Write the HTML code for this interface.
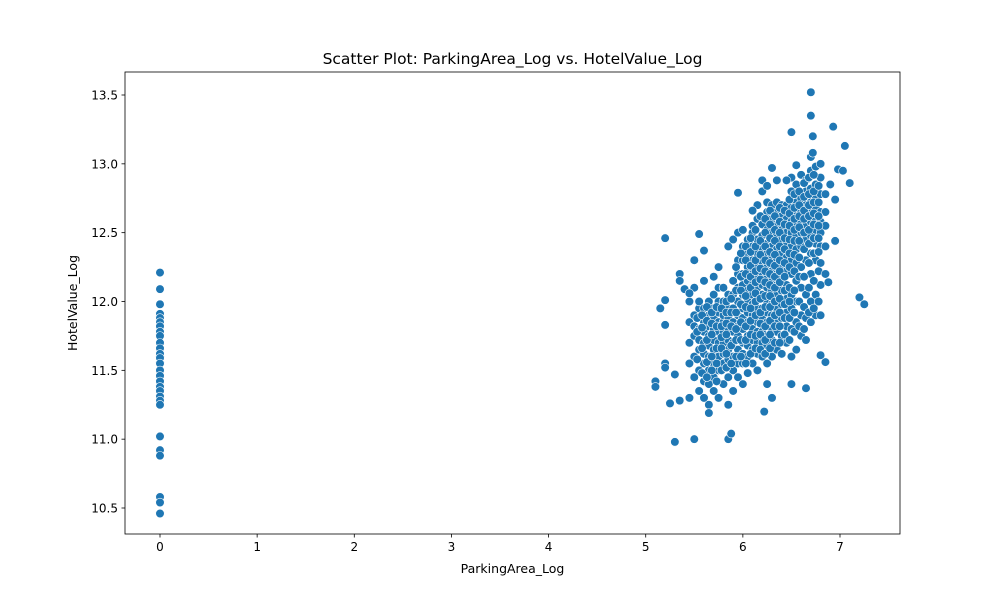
<!DOCTYPE html>
<html><head><meta charset="utf-8"><style>
body{margin:0;background:#fff;font-family:"Liberation Sans","DejaVu Sans",sans-serif}
svg text{font-family:"DejaVu Sans","Liberation Sans",sans-serif}
</style></head><body>
<svg id="c" width="1000" height="600">
<rect width="1000" height="600" fill="#fff"/>
</svg>
<script>
const xTicks=[0,1,2,3,4,5,6,7];
const yTicks=[10.5,11.0,11.5,12.0,12.5,13.0,13.5];
const zeroYs=[12.21,12.09,11.98,11.91,11.88,11.85,11.82,11.78,11.75,11.70,11.66,11.62,11.59,11.55,11.50,11.46,11.42,11.38,11.35,11.31,11.28,11.25,11.02,10.92,10.88,10.58,10.54,10.46];
const outX=[5.1,5.1,5.15,5.2,5.2,5.2,5.2,5.2,5.25,5.3,5.3,5.35,5.35,5.35,5.4,5.45,5.5,5.5,5.55,5.6,5.65,5.85,5.88,5.95,6.1,6.2,6.25,6.3,6.35,6.45,6.5,6.55,6.65,6.7,6.7,6.72,6.72,6.8,6.93,6.98,7.03,7.05,7.1,7.2,7.25,6.85,6.8,6.5,6.22,6.3,6.25,6.85,6.88,6.95,6.95,6.9];
const outY=[11.42,11.38,11.95,12.46,12.01,11.83,11.55,11.52,11.26,10.98,11.47,11.28,12.2,12.15,12.09,12.06,12.3,11.0,12.49,12.37,11.19,11.0,11.04,12.79,12.66,12.88,12.84,12.97,12.88,12.88,13.23,12.99,11.37,13.52,13.35,13.2,13.08,13.0,13.27,12.96,12.95,13.13,12.86,12.03,11.98,11.56,11.61,11.4,11.2,11.3,11.4,12.2,12.14,12.44,12.74,12.85];
const colX=[5.45,5.5,5.55,5.6,5.65,5.7,5.75,5.8,5.85,5.9,5.95,6.0,6.05,6.1,6.15,6.2,6.25,6.3,6.35,6.4,6.45,6.5,6.55,6.6,6.65,6.7,6.75,6.8,6.85];
const colY=[
[11.3,11.55,11.7,11.85,12.0],
[11.45,11.6,11.75,11.82,11.9,12.1],
[11.35,11.5,11.65,11.72,11.8,11.95,12.0],
[11.3,11.42,11.55,11.62,11.7,11.78,11.85,11.95,12.15],
[11.25,11.4,11.5,11.6,11.68,11.75,11.82,11.9,12.0],
[11.35,11.45,11.55,11.65,11.72,11.8,11.88,11.95,12.05,12.18],
[11.3,11.5,11.6,11.7,11.78,11.85,11.92,12.0,12.1,12.25],
[11.4,11.55,11.62,11.7,11.78,11.85,11.9,12.0,12.1],
[11.25,11.45,11.58,11.65,11.72,11.8,11.88,11.95,12.05,12.4],
[11.35,11.5,11.6,11.7,11.78,11.85,11.95,12.05,12.15,12.45],
[11.45,11.55,11.65,11.75,11.82,11.9,12.0,12.1,12.2,12.3,12.5],
[11.4,11.55,11.62,11.7,11.8,11.88,11.95,12.05,12.12,12.2,12.3,12.4,12.52],
[11.48,11.6,11.68,11.75,11.85,11.92,12.0,12.08,12.15,12.25,12.35,12.45],
[11.55,11.65,11.72,11.8,11.9,11.98,12.05,12.12,12.2,12.3,12.4,12.5,12.55],
[11.5,11.62,11.7,11.78,11.85,11.95,12.02,12.1,12.18,12.25,12.35,12.45,12.6,12.7],
[11.6,11.7,11.78,11.88,11.95,12.05,12.12,12.2,12.28,12.38,12.48,12.56,12.8],
[11.55,11.68,11.75,11.85,11.92,12.0,12.1,12.18,12.25,12.35,12.42,12.52,12.65,12.72],
[11.6,11.72,11.8,11.9,11.98,12.08,12.15,12.22,12.32,12.4,12.5,12.6,12.7],
[11.65,11.78,11.85,11.95,12.05,12.12,12.2,12.3,12.38,12.48,12.55,12.65,12.72],
[11.62,11.75,11.88,11.98,12.08,12.18,12.25,12.35,12.45,12.52,12.62,12.7],
[11.7,11.82,11.92,12.02,12.12,12.22,12.32,12.42,12.5,12.6,12.7],
[11.6,11.8,11.95,12.05,12.2,12.3,12.4,12.5,12.58,12.68,12.8,12.9],
[11.65,11.85,12.0,12.15,12.28,12.38,12.48,12.55,12.62,12.72,12.85],
[11.75,11.9,12.1,12.25,12.4,12.5,12.58,12.65,12.75,12.92],
[11.72,11.88,12.05,12.3,12.45,12.55,12.62,12.7,12.8,12.88],
[11.85,12.0,12.2,12.35,12.48,12.58,12.65,12.72,12.82,12.95,13.05],
[11.9,12.05,12.3,12.42,12.52,12.6,12.68,12.75,12.85,12.98],
[11.9,12.12,12.28,12.4,12.5,12.58,12.65,12.78,12.9],
[12.4,12.55,12.65,12.78]];
const fillX=[5.53,5.58,5.63,5.68,5.73,5.78,5.83,5.88,5.93,5.98,6.03,6.08,6.13,6.18,6.23,6.28,6.33,6.38,6.43,6.48,6.53,6.58,6.63,6.68,6.73,6.78];
const fillY=[
[11.58,11.78,11.88],
[11.48,11.66,11.81,11.9],
[11.45,11.56,11.72,11.86,11.96],
[11.5,11.6,11.76,11.84,11.92],
[11.42,11.55,11.66,11.82,11.96],
[11.5,11.66,11.74,11.82,11.95],
[11.52,11.62,11.76,11.84,11.92,12.0],
[11.55,11.68,11.82,11.92,12.02],
[11.6,11.72,11.8,11.92,12.08,12.25],
[11.6,11.72,11.85,11.98,12.08,12.18,12.35],
[11.55,11.72,11.82,11.96,12.04,12.2,12.3,12.4],
[11.62,11.76,11.86,11.95,12.1,12.18,12.26,12.36,12.46],
[11.66,11.75,11.9,12.0,12.06,12.14,12.22,12.3,12.4,12.52],
[11.65,11.76,11.84,11.92,12.02,12.16,12.24,12.34,12.44,12.62],
[11.62,11.72,11.82,11.96,12.04,12.14,12.22,12.3,12.4,12.5,12.6],
[11.66,11.76,11.86,11.96,12.04,12.12,12.2,12.28,12.36,12.46,12.56,12.66],
[11.7,11.82,11.9,12.0,12.1,12.18,12.26,12.34,12.44,12.52,12.62],
[11.7,11.82,11.92,12.02,12.14,12.22,12.3,12.4,12.5,12.58,12.68],
[11.76,11.88,11.98,12.08,12.18,12.28,12.38,12.46,12.56,12.66],
[11.72,11.88,12.0,12.1,12.25,12.35,12.45,12.55,12.64,12.74],
[11.78,11.92,12.08,12.22,12.34,12.44,12.52,12.6,12.68,12.78],
[11.82,12.0,12.18,12.32,12.44,12.54,12.62,12.7,12.8],
[11.8,11.96,12.18,12.38,12.5,12.6,12.66,12.76,12.86],
[11.92,12.1,12.28,12.42,12.52,12.62,12.7,12.78,12.9],
[11.95,12.15,12.35,12.46,12.56,12.64,12.72,12.8,12.92],
[12.0,12.22,12.36,12.46,12.55,12.62,12.72,12.84]];

const L=125,R=900,T=72,B=534;
const sx=v=>160+(v-0)*(840-160)/7;
const sy=v=>508-(v-10.5)*(508-95)/3;
const NS='http://www.w3.org/2000/svg';
const svg=document.getElementById('c');
function mk(t,a,p){const e=document.createElementNS(NS,t);for(const k in a)e.setAttribute(k,a[k]);(p||svg).appendChild(e);return e;}
function txt(s,a,name){const e=mk('text',a);e.textContent=s;


return e;}

const pts=mk('g',{});


function dot(x,y){const c=mk('circle',{cx:sx(x),cy:sy(y),r:4.3,fill:'#1f77b4',stroke:'#fff','stroke-width':0.6},pts);

}
zeroYs.forEach(y=>dot(0,y));
colX.forEach((x,i)=>colY[i].forEach(y=>dot(x,y)));
fillX.forEach((x,i)=>fillY[i].forEach(y=>dot(x,y)));
outX.forEach((x,i)=>dot(x,outY[i]));

const frame=mk('rect',{x:L,y:T,width:R-L,height:B-T,fill:'none',stroke:'#000','stroke-width':0.8});


xTicks.forEach(v=>{const x=sx(v);
const t=mk('line',{x1:x,x2:x,y1:B,y2:B+3.5,stroke:'#000','stroke-width':0.8});


txt(String(v),{x:x,y:B+17,'font-size':12,'text-anchor':'middle',fill:'#000'},'x-tick-label');});
yTicks.forEach(v=>{const y=sy(v);
const t=mk('line',{x1:L-3.5,x2:L,y1:y,y2:y,stroke:'#000','stroke-width':0.8});


txt(v.toFixed(1),{x:L-7,y:y+4.5,'font-size':12,'text-anchor':'end',fill:'#000'},'y-tick-label');});
txt('ParkingArea_Log',{x:(L+R)/2,y:573,'font-size':12.5,'text-anchor':'middle'},'x-axis-title');
txt('HotelValue_Log',{x:77,y:(T+B)/2,'font-size':12.5,'text-anchor':'middle',transform:`rotate(-90 77 ${(T+B)/2})`},'y-axis-title');
txt('Scatter Plot: ParkingArea_Log vs. HotelValue_Log',{x:(L+R)/2,y:64,'font-size':15.5,'text-anchor':'middle'},'chart-title');
</script>
</body></html>
